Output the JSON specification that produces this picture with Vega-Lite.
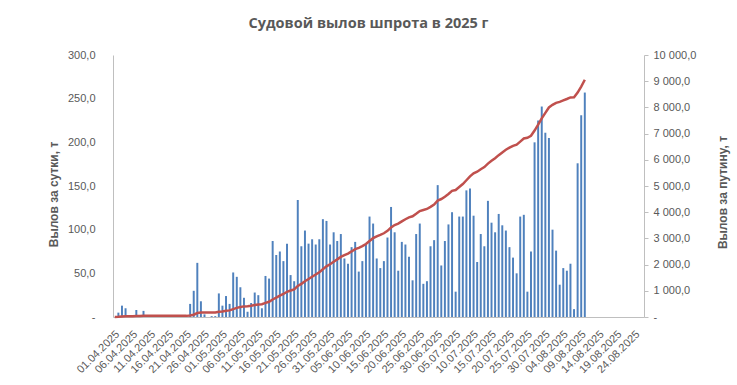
{
  "$schema": "https://vega.github.io/schema/vega-lite/v6.json",
  "autosize": {"type": "none"},
  "width": 531,
  "height": 262,
  "padding": {"left": 113, "top": 55, "right": 93, "bottom": 68},
  "background": "white",
  "title": {
    "text": "Судовой вылов шпрота в 2025 г",
    "font": "Open Sans",
    "fontSize": 14.5,
    "fontWeight": "bold",
    "color": "#595959",
    "anchor": "middle",
    "dx": -10,
    "offset": 18
  },
  "config": {
    "view": {"stroke": null},
    "axis": {
      "labelFont": "Liberation Sans",
      "labelFontSize": 11,
      "labelColor": "#595959",
      "titleFont": "Liberation Sans",
      "titleFontSize": 12,
      "titleFontWeight": "bold",
      "titleColor": "#595959",
      "domainColor": "#bfbfbf",
      "tickColor": "#bfbfbf",
      "grid": false
    }
  },
  "data": {
    "values": [
      {"date": "01.04.2025", "daily": 0, "cum": 0},
      {"date": "02.04.2025", "daily": 5, "cum": 5},
      {"date": "03.04.2025", "daily": 13, "cum": 18},
      {"date": "04.04.2025", "daily": 10, "cum": 28},
      {"date": "05.04.2025", "daily": 0, "cum": 28},
      {"date": "06.04.2025", "daily": 0, "cum": 28},
      {"date": "07.04.2025", "daily": 8, "cum": 36},
      {"date": "08.04.2025", "daily": 0, "cum": 36},
      {"date": "09.04.2025", "daily": 7, "cum": 43},
      {"date": "10.04.2025", "daily": 0, "cum": 43},
      {"date": "11.04.2025", "daily": 0, "cum": 43},
      {"date": "12.04.2025", "daily": 0, "cum": 43},
      {"date": "13.04.2025", "daily": 0, "cum": 43},
      {"date": "14.04.2025", "daily": 0, "cum": 43},
      {"date": "15.04.2025", "daily": 0, "cum": 43},
      {"date": "16.04.2025", "daily": 0, "cum": 43},
      {"date": "17.04.2025", "daily": 0, "cum": 43},
      {"date": "18.04.2025", "daily": 0, "cum": 43},
      {"date": "19.04.2025", "daily": 0, "cum": 43},
      {"date": "20.04.2025", "daily": 0, "cum": 43},
      {"date": "21.04.2025", "daily": 0, "cum": 43},
      {"date": "22.04.2025", "daily": 15, "cum": 58},
      {"date": "23.04.2025", "daily": 30, "cum": 88},
      {"date": "24.04.2025", "daily": 62, "cum": 150},
      {"date": "25.04.2025", "daily": 18, "cum": 168},
      {"date": "26.04.2025", "daily": 3, "cum": 171},
      {"date": "27.04.2025", "daily": 0, "cum": 171},
      {"date": "28.04.2025", "daily": 1, "cum": 172},
      {"date": "29.04.2025", "daily": 1, "cum": 173},
      {"date": "30.04.2025", "daily": 27, "cum": 200},
      {"date": "01.05.2025", "daily": 13, "cum": 213},
      {"date": "02.05.2025", "daily": 24, "cum": 237},
      {"date": "03.05.2025", "daily": 15, "cum": 252},
      {"date": "04.05.2025", "daily": 51, "cum": 303},
      {"date": "05.05.2025", "daily": 46, "cum": 349},
      {"date": "06.05.2025", "daily": 34, "cum": 383},
      {"date": "07.05.2025", "daily": 22, "cum": 405},
      {"date": "08.05.2025", "daily": 6, "cum": 411},
      {"date": "09.05.2025", "daily": 16, "cum": 427},
      {"date": "10.05.2025", "daily": 28, "cum": 455},
      {"date": "11.05.2025", "daily": 25, "cum": 480},
      {"date": "12.05.2025", "daily": 10, "cum": 490},
      {"date": "13.05.2025", "daily": 47, "cum": 537},
      {"date": "14.05.2025", "daily": 44, "cum": 581},
      {"date": "15.05.2025", "daily": 87, "cum": 668},
      {"date": "16.05.2025", "daily": 71, "cum": 739},
      {"date": "17.05.2025", "daily": 75, "cum": 814},
      {"date": "18.05.2025", "daily": 64, "cum": 878},
      {"date": "19.05.2025", "daily": 84, "cum": 962},
      {"date": "20.05.2025", "daily": 48, "cum": 1010},
      {"date": "21.05.2025", "daily": 41, "cum": 1051},
      {"date": "22.05.2025", "daily": 134, "cum": 1185},
      {"date": "23.05.2025", "daily": 81, "cum": 1266},
      {"date": "24.05.2025", "daily": 99, "cum": 1365},
      {"date": "25.05.2025", "daily": 84, "cum": 1449},
      {"date": "26.05.2025", "daily": 89, "cum": 1538},
      {"date": "27.05.2025", "daily": 83, "cum": 1621},
      {"date": "28.05.2025", "daily": 89, "cum": 1710},
      {"date": "29.05.2025", "daily": 112, "cum": 1822},
      {"date": "30.05.2025", "daily": 110, "cum": 1932},
      {"date": "31.05.2025", "daily": 83, "cum": 2015},
      {"date": "01.06.2025", "daily": 97, "cum": 2112},
      {"date": "02.06.2025", "daily": 87, "cum": 2199},
      {"date": "03.06.2025", "daily": 95, "cum": 2294},
      {"date": "04.06.2025", "daily": 67, "cum": 2361},
      {"date": "05.06.2025", "daily": 61, "cum": 2422},
      {"date": "06.06.2025", "daily": 80, "cum": 2502},
      {"date": "07.06.2025", "daily": 86, "cum": 2588},
      {"date": "08.06.2025", "daily": 52, "cum": 2640},
      {"date": "09.06.2025", "daily": 64, "cum": 2704},
      {"date": "10.06.2025", "daily": 83, "cum": 2787},
      {"date": "11.06.2025", "daily": 115, "cum": 2902},
      {"date": "12.06.2025", "daily": 107, "cum": 3009},
      {"date": "13.06.2025", "daily": 67, "cum": 3076},
      {"date": "14.06.2025", "daily": 56, "cum": 3132},
      {"date": "15.06.2025", "daily": 64, "cum": 3196},
      {"date": "16.06.2025", "daily": 91, "cum": 3287},
      {"date": "17.06.2025", "daily": 126, "cum": 3413},
      {"date": "18.06.2025", "daily": 97, "cum": 3510},
      {"date": "19.06.2025", "daily": 53, "cum": 3563},
      {"date": "20.06.2025", "daily": 86, "cum": 3649},
      {"date": "21.06.2025", "daily": 83, "cum": 3732},
      {"date": "22.06.2025", "daily": 69, "cum": 3801},
      {"date": "23.06.2025", "daily": 42, "cum": 3843},
      {"date": "24.06.2025", "daily": 95, "cum": 3938},
      {"date": "25.06.2025", "daily": 107, "cum": 4045},
      {"date": "26.06.2025", "daily": 38, "cum": 4083},
      {"date": "27.06.2025", "daily": 41, "cum": 4124},
      {"date": "28.06.2025", "daily": 81, "cum": 4205},
      {"date": "29.06.2025", "daily": 88, "cum": 4293},
      {"date": "30.06.2025", "daily": 151, "cum": 4444},
      {"date": "01.07.2025", "daily": 59, "cum": 4503},
      {"date": "02.07.2025", "daily": 87, "cum": 4590},
      {"date": "03.07.2025", "daily": 106, "cum": 4696},
      {"date": "04.07.2025", "daily": 120, "cum": 4816},
      {"date": "05.07.2025", "daily": 29, "cum": 4845},
      {"date": "06.07.2025", "daily": 115, "cum": 4960},
      {"date": "07.07.2025", "daily": 115, "cum": 5075},
      {"date": "08.07.2025", "daily": 145, "cum": 5220},
      {"date": "09.07.2025", "daily": 147, "cum": 5367},
      {"date": "10.07.2025", "daily": 116, "cum": 5483},
      {"date": "11.07.2025", "daily": 63, "cum": 5546},
      {"date": "12.07.2025", "daily": 95, "cum": 5641},
      {"date": "13.07.2025", "daily": 81, "cum": 5722},
      {"date": "14.07.2025", "daily": 133, "cum": 5855},
      {"date": "15.07.2025", "daily": 108, "cum": 5963},
      {"date": "16.07.2025", "daily": 97, "cum": 6060},
      {"date": "17.07.2025", "daily": 118, "cum": 6178},
      {"date": "18.07.2025", "daily": 105, "cum": 6283},
      {"date": "19.07.2025", "daily": 99, "cum": 6382},
      {"date": "20.07.2025", "daily": 80, "cum": 6462},
      {"date": "21.07.2025", "daily": 68, "cum": 6530},
      {"date": "22.07.2025", "daily": 50, "cum": 6580},
      {"date": "23.07.2025", "daily": 115, "cum": 6695},
      {"date": "24.07.2025", "daily": 117, "cum": 6812},
      {"date": "25.07.2025", "daily": 29, "cum": 6841},
      {"date": "26.07.2025", "daily": 75, "cum": 6916},
      {"date": "27.07.2025", "daily": 200, "cum": 7116},
      {"date": "28.07.2025", "daily": 225, "cum": 7341},
      {"date": "29.07.2025", "daily": 241, "cum": 7582},
      {"date": "30.07.2025", "daily": 211, "cum": 7793},
      {"date": "31.07.2025", "daily": 205, "cum": 7998},
      {"date": "01.08.2025", "daily": 100, "cum": 8098},
      {"date": "02.08.2025", "daily": 76, "cum": 8174},
      {"date": "03.08.2025", "daily": 37, "cum": 8211},
      {"date": "04.08.2025", "daily": 56, "cum": 8267},
      {"date": "05.08.2025", "daily": 53, "cum": 8320},
      {"date": "06.08.2025", "daily": 61, "cum": 8381},
      {"date": "07.08.2025", "daily": 9, "cum": 8390},
      {"date": "08.08.2025", "daily": 176, "cum": 8566},
      {"date": "09.08.2025", "daily": 231, "cum": 8797},
      {"date": "10.08.2025", "daily": 257, "cum": 9054},
      {"date": "11.08.2025", "daily": null, "cum": null},
      {"date": "12.08.2025", "daily": null, "cum": null},
      {"date": "13.08.2025", "daily": null, "cum": null},
      {"date": "14.08.2025", "daily": null, "cum": null},
      {"date": "15.08.2025", "daily": null, "cum": null},
      {"date": "16.08.2025", "daily": null, "cum": null},
      {"date": "17.08.2025", "daily": null, "cum": null},
      {"date": "18.08.2025", "daily": null, "cum": null},
      {"date": "19.08.2025", "daily": null, "cum": null},
      {"date": "20.08.2025", "daily": null, "cum": null},
      {"date": "21.08.2025", "daily": null, "cum": null},
      {"date": "22.08.2025", "daily": null, "cum": null},
      {"date": "23.08.2025", "daily": null, "cum": null},
      {"date": "24.08.2025", "daily": null, "cum": null},
      {"date": "25.08.2025", "daily": null, "cum": null},
      {"date": "26.08.2025", "daily": null, "cum": null}
    ]
  },
  "encoding": {
    "x": {
      "field": "date",
      "type": "ordinal",
      "sort": null,
      "scale": {"paddingInner": 0.45, "paddingOuter": 0.225},
      "axis": {
        "title": null,
        "values": ["01.04.2025","06.04.2025","11.04.2025","16.04.2025","21.04.2025","26.04.2025","01.05.2025","06.05.2025","11.05.2025","16.05.2025","21.05.2025","26.05.2025","31.05.2025","05.06.2025","10.06.2025","15.06.2025","20.06.2025","25.06.2025","30.06.2025","05.07.2025","10.07.2025","15.07.2025","20.07.2025","25.07.2025","30.07.2025","04.08.2025","09.08.2025","14.08.2025","19.08.2025","24.08.2025"],
        "labelAngle": -45,
        "labelAlign": "right",
        "labelBaseline": "top",
        "labelPadding": 11,
        "labelOffset": -1,
        "ticks": false,
        "tickSize": 0,
        "domainColor": "#bfbfbf",
        "labelOverlap": false
      }
    }
  },
  "layer": [
    {
      "mark": {"type": "bar", "color": "#4f81bd"},
      "encoding": {
        "y": {
          "field": "daily",
          "type": "quantitative",
          "scale": {"domain": [0, 300], "nice": false},
          "axis": {
            "title": "Вылов за сутки, т",
            "orient": "left",
            "values": [0, 50, 100, 150, 200, 250, 300],
            "labelExpr": "datum.value == 0 ? '-    ' : replace(format(datum.value, '.1f'), '.', ',')",
            "ticks": false,
            "tickSize": 0,
            "labelPadding": 18,
            "titleAngle": -90,
            "titleX": -60,
            "titleY": 139,
            "titleAlign": "center",
            "titleBaseline": "middle"
          }
        }
      }
    },
    {
      "mark": {"type": "line", "color": "#c0504d", "strokeWidth": 2.5},
      "encoding": {
        "y": {
          "field": "cum",
          "type": "quantitative",
          "scale": {"domain": [0, 10000], "nice": false},
          "axis": {
            "title": "Вылов за путину, т",
            "orient": "right",
            "values": [0, 1000, 2000, 3000, 4000, 5000, 6000, 7000, 8000, 9000, 10000],
            "labelExpr": "datum.value == 0 ? '  -' : replace(replace(format(datum.value, ',.1f'), ',', ' '), '.', ',')",
            "ticks": true,
            "tickSize": 4,
            "labelPadding": 5,
            "titleAngle": -90,
            "titleX": 78,
            "titleY": 137,
            "titleAlign": "center",
            "titleBaseline": "middle"
          }
        }
      }
    }
  ],
  "resolve": {"scale": {"y": "independent"}}
}
